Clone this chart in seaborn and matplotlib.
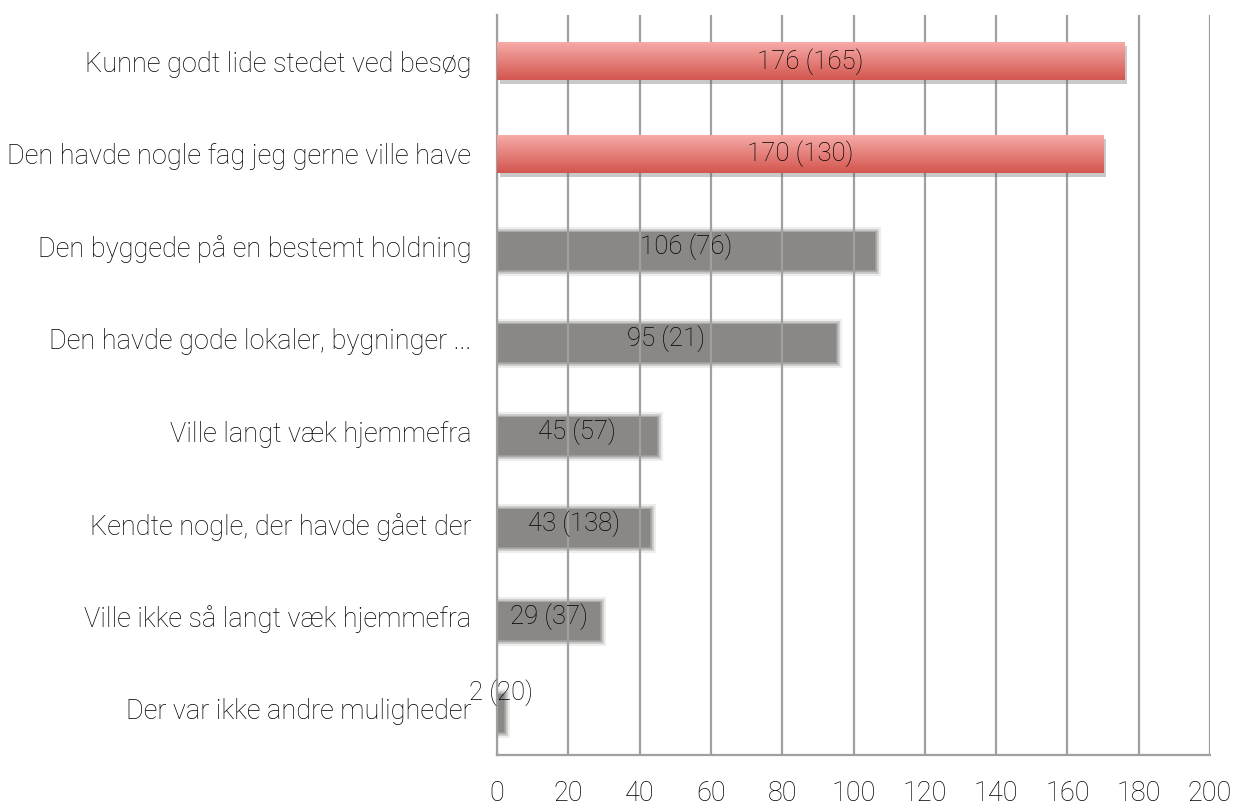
import numpy as np
import matplotlib
matplotlib.use("Agg")
import matplotlib.pyplot as plt
import matplotlib.patheffects as pe
from matplotlib.colors import LinearSegmentedColormap
import seaborn as sns

categories = [
    "Kunne godt lide stedet ved besøg",
    "Den havde nogle fag jeg gerne ville have",
    "Den byggede på en bestemt holdning",
    "Den havde gode lokaler, bygninger ...",
    "Ville langt væk hjemmefra",
    "Kendte nogle, der havde gået der",
    "Ville ikke så langt væk hjemmefra",
    "Der var ikke andre muligheder",
]
values = [176, 170, 106, 95, 45, 43, 29, 2]
previous = [165, 130, 76, 21, 57, 138, 37, 20]
highlight = [True, True, False, False, False, False, False, False]
xticks = [0, 20, 40, 60, 80, 100, 120, 140, 160, 180, 200]

sns.set_theme(style="white")
plt.rcParams["font.family"] = ["Roboto", "Liberation Sans", "DejaVu Sans"]
plt.rcParams["font.weight"] = "light"

grey = "#8a8886"
red = "#e07670"
line_col = "#a0a0a0"
text_col = "#000000"

fig = plt.figure(figsize=(12.35, 8.07), dpi=100)
ax = fig.add_axes([0.4024, 0.0644, 0.5774, 0.917])

palette = [red if h else grey for h in highlight]
sns.barplot(x=values, y=categories, hue=categories, palette=palette,
            orient="h", width=0.41, legend=False, ax=ax, saturation=1)

ax.set_xticks(xticks)
ax.set_axisbelow("line")
ax.grid(axis="x", color=line_col, linewidth=1.6)
ax.grid(axis="y", visible=False)

grad = LinearSegmentedColormap.from_list("g", ["#f7aaa7", "#d2564e"])
for patch, h in zip(ax.patches, highlight):
    patch.set_edgecolor("none")
    if h:
        patch.set_zorder(3)
        patch.set_path_effects([pe.SimplePatchShadow(offset=(2, -3), alpha=0.35, shadow_rgbFace="#666666"),
                                pe.Normal()])
        x0, y0 = patch.get_x(), patch.get_y()
        w, hgt = patch.get_width(), patch.get_height()
        img = ax.imshow(np.linspace(0, 1, 64).reshape(-1, 1), cmap=grad, aspect="auto",
                        extent=(x0, x0 + w, y0 + hgt, y0), zorder=3.2, interpolation="bilinear")
        img.set_clip_path(patch)
    else:
        patch.set_zorder(1)
        patch.set_y(patch.get_y() + 0.05)
        patch.set_path_effects([pe.Stroke(linewidth=8, foreground=grey, alpha=0.15),
                                pe.Stroke(linewidth=5, foreground=grey, alpha=0.3),
                                pe.Stroke(linewidth=2.5, foreground=grey, alpha=0.5),
                                pe.Normal()])

ax.set_xlim(0, 200)
ax.set_ylim(len(categories) - 0.5, -0.5)

for i, (v, p) in enumerate(zip(values, previous)):
    y = i - 0.17 if v < 10 else i
    ax.text(v / 2, y, f"{v} ({p})", ha="center", va="center",
            fontsize=18.5, color=text_col, zorder=4)

# y axis: ticks at category boundaries
ax.set_yticks(range(len(categories)))
ax.set_yticklabels(categories)
ax.set_yticks(np.arange(-0.5, len(categories), 1), minor=True)
ax.tick_params(axis="y", which="major", length=0, pad=18.5, labelsize=19.5, labelcolor=text_col)
ax.tick_params(axis="y", which="minor", length=7, width=1.4, color=line_col, direction="out")
ax.tick_params(axis="x", which="major", length=7, width=1.4, color=line_col, direction="out",
               pad=11, labelsize=19.5, labelcolor=text_col)
ax.set_xlabel("")
ax.set_ylabel("")

for side in ["top", "right"]:
    ax.spines[side].set_visible(False)
for side in ["left", "bottom"]:
    ax.spines[side].set_color(line_col)
    ax.spines[side].set_linewidth(1.6)

fig.savefig("out.png", dpi=100)
